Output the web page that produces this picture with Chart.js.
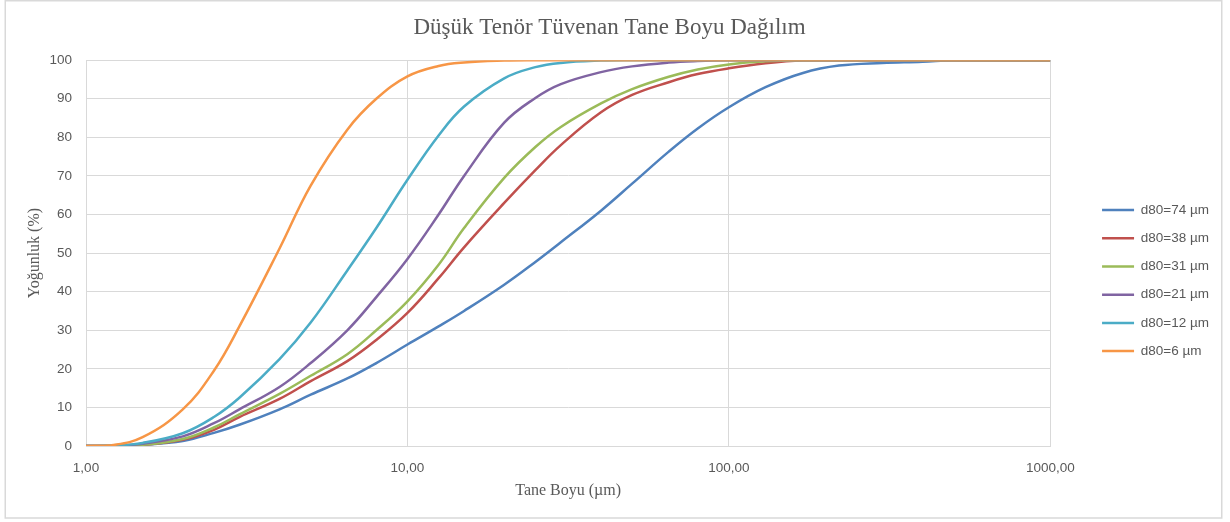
<!DOCTYPE html>
<html>
<head>
<meta charset="utf-8">
<script src="https://cdn.jsdelivr.net/npm/chart.js@4/dist/chart.umd.min.js"></script>
<style>
  html, body { margin: 0; padding: 0; background: #fff; }
  canvas { display: block; }
</style>
</head>
<body>
<canvas id="chart" width="1230" height="522"></canvas>
<script>
// Particle sizes (µm) at which the cumulative passing is read
const sizes = [1, 1.2, 1.5, 2, 2.5, 3, 4, 5, 6.5, 8, 10, 12.5, 15, 20, 25, 30, 40, 50, 65, 80, 100, 130, 170, 220, 300, 400, 500, 1000];

// Cumulative passing (%) for each grind
const d80_74 = [0, 0, 0.3, 1.3, 3.4, 5.5, 9.5, 13.3, 17.5, 21.5, 26.3, 31, 35, 41.8, 47.7, 52.8, 61, 68, 76.3, 82.3, 87.8, 93, 96.7, 98.6, 99.3, 99.6, 100, 100];
const d80_38 = [0, 0, 0.3, 1.6, 4.2, 7.5, 12.2, 16.8, 22, 27.5, 34.5, 43.5, 51.5, 63, 71.5, 78, 86.5, 91, 94.3, 96.4, 97.9, 99.2, 100, 100, 100, 100, 100, 100];
const d80_31 = [0, 0, 0.3, 1.8, 4.8, 8.2, 13.5, 18.2, 23.8, 30, 37.5, 47, 56.5, 69.5, 77.5, 82.7, 88.8, 92.5, 95.7, 97.6, 98.9, 99.7, 100, 100, 100, 100, 100, 100];
const d80_21 = [0, 0, 0.6, 2.5, 5.9, 9.5, 15.3, 21.5, 30, 38.6, 48.5, 60, 70, 83.8, 90.2, 93.8, 96.9, 98.4, 99.4, 99.8, 100, 100, 100, 100, 100, 100, 100, 100];
const d80_12 = [0, 0.1, 0.8, 3.3, 7.5, 12.5, 22.5, 32, 45.5, 56.5, 69, 80.5, 88, 95.3, 98.2, 99.3, 99.9, 100, 100, 100, 100, 100, 100, 100, 100, 100, 100, 100];
const d80_6  = [0, 0.2, 2.3, 9.5, 19.5, 31, 51.2, 67.5, 82, 90, 95.8, 98.5, 99.4, 99.9, 100, 100, 100, 100, 100, 100, 100, 100, 100, 100, 100, 100, 100, 100];

const seriesNames = ['d80=74 µm', 'd80=38 µm', 'd80=31 µm', 'd80=21 µm', 'd80=12 µm', 'd80=6 µm'];
const seriesValues = [d80_74, d80_38, d80_31, d80_21, d80_12, d80_6];

// Axis tick positions and their printed labels
const xTickValues = [1, 10, 100, 1000];
const xTickLabels = ['1,00', '10,00', '100,00', '1000,00'];

const lineColors = ['#4F81BD', '#C0504D', '#9BBB59', '#8064A2', '#4BACC6', '#F79646'];
const textGrey = '#595959';
const gridGrey = '#d9d9d9';
const sansFont = { family: '"Liberation Sans", Arial, sans-serif', size: 13.5 };
const serifFont = { family: '"Liberation Serif", "Times New Roman", serif', size: 16, weight: 'normal' };

// White background and thin outer frame around the whole chart
const framePlugin = {
  id: 'frame',
  beforeDraw(chart) {
    const c = chart.ctx;
    c.save();
    c.fillStyle = '#ffffff';
    c.fillRect(0, 0, chart.width, chart.height);
    c.strokeStyle = gridGrey;
    c.lineWidth = 1.5;
    c.strokeRect(5.25, 0.75, 1216.5, 517.25);
    c.restore();
  }
};

const datasets = seriesNames.map((name, i) => ({
  label: name,
  data: sizes.map((x, j) => ({ x: x, y: seriesValues[i][j] })),
  borderColor: lineColors[i],
  backgroundColor: lineColors[i],
  borderWidth: 2.5,
  pointRadius: 0,
  pointHoverRadius: 0,
  fill: false,
  tension: 0.4,
  order: seriesNames.length - 1 - i
}));

new Chart(document.getElementById('chart'), {
  type: 'line',
  data: { datasets: datasets },
  options: {
    responsive: false,
    animation: false,
    devicePixelRatio: 1,
    layout: { padding: { left: 0, right: 11, top: 0, bottom: 0 } },
    plugins: {
      title: {
        display: true,
        text: 'Düşük Tenör Tüvenan Tane Boyu Dağılım',
        color: textGrey,
        font: { family: serifFont.family, size: 23, weight: 'normal' },
        padding: { top: 14, bottom: 18.6 }
      },
      legend: {
        position: 'right',
        align: 'center',
        fullSize: false,
        title: { display: true, text: ' ', font: { size: 10 }, padding: { top: 0, bottom: 43 } },
        labels: {
          usePointStyle: true,
          pointStyle: 'line',
          pointStyleWidth: 32,
          padding: 14.7,
          color: textGrey,
          font: sansFont,
          sort: (a, b) => a.datasetIndex - b.datasetIndex
        }
      },
      tooltip: { enabled: false }
    },
    scales: {
      x: {
        type: 'logarithmic',
        min: 1,
        max: 1000,
        afterBuildTicks: (scale) => { scale.ticks = xTickValues.map(v => ({ value: v })); },
        afterFit: (scale) => { scale.height = 76; },
        ticks: {
          autoSkip: false,
          maxRotation: 0,
          padding: 14,
          color: textGrey,
          font: sansFont,
          callback: (value) => xTickLabels[xTickValues.indexOf(value)]
        },
        grid: { color: gridGrey, drawTicks: false },
        border: { color: gridGrey },
        title: {
          display: true,
          text: 'Tane Boyu (µm)',
          color: textGrey,
          font: serifFont,
          padding: { top: 0, bottom: 22 }
        }
      },
      y: {
        min: 0,
        max: 100,
        afterFit: (scale) => { scale.width = 86; },
        ticks: { stepSize: 10, padding: 14, color: textGrey, font: sansFont },
        grid: { color: gridGrey, drawTicks: false },
        border: { color: gridGrey },
        title: {
          display: true,
          text: 'Yoğunluk (%)',
          color: textGrey,
          font: serifFont,
          padding: { top: 25, bottom: 0 }
        }
      },
      // empty spacer between the plot and the legend
      gap: {
        position: 'right',
        type: 'linear',
        display: true,
        grid: { display: false },
        border: { display: false },
        ticks: { display: false },
        afterFit: (scale) => { scale.width = 37; }
      }
    }
  },
  plugins: [framePlugin]
});
</script>
</body>
</html>
